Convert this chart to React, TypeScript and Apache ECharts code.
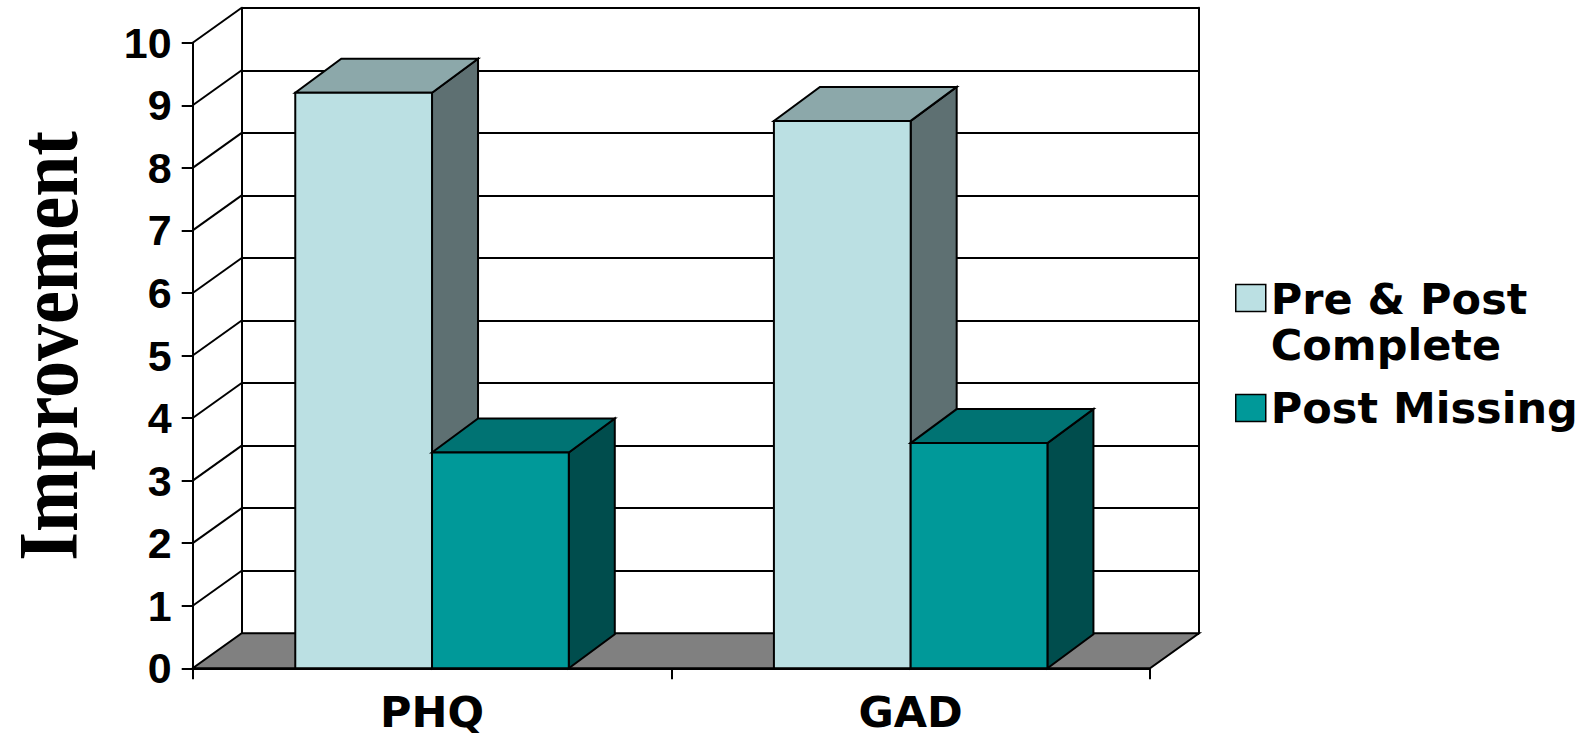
import React, { useEffect, useRef } from "react";
import * as echarts from "echarts";

// ---- data ----
const CATEGORIES = ["PHQ", "GAD"];
const SERIES_NAMES = ["Pre & Post Complete", "Post Missing"];
const PRE_POST_COMPLETE = [9.2, 8.75];
const POST_MISSING = [3.45, 3.6];
const Y_TICKS = [0, 1, 2, 3, 4, 5, 6, 7, 8, 9, 10];
const Y_MIN = 0;
const Y_MAX = 10;
const Y_STEP = 1;

// ---- styling ----
// each series: front face, top face (shaded), side face (darker)
const PALETTE = [
  { front: "#BBE0E3", top: "#8CA8AA", side: "#5E7072" },
  { front: "#009999", top: "#007373", side: "#004D4D" },
];
const FLOOR_COLOR = "#808080";
const FONT_WIDE = "'DejaVu Sans', 'Liberation Sans', Arial, sans-serif";
const FONT_DIGITS = "'Liberation Sans', Arial, Helvetica, sans-serif";
const FONT_SERIF = "'Liberation Serif', 'Times New Roman', serif";
const LINE_W = 2;

// front plane of the plot and the depth offsets of walls / boxes
const FRONT = { left: 192.7, right: 429, top: 42.7, bottom: 67.7 };
const WALL_DX = 49;
const WALL_DY = 35;
const BAR_DX = 46;
const BAR_DY = 34;
const GAP_RATIO = 1.5; // space between clusters, in bar widths

const edge = { stroke: "#000", lineWidth: LINE_W, lineJoin: "miter" };

function makeBoxRenderer(seriesIdx: number) {
  return (params: any, api: any) => {
    const cat = api.value(0);
    const val = api.value(1);
    const band = api.size([1, 0])[0];
    const n = SERIES_NAMES.length;
    const barW = band / (n + GAP_RATIO);
    const base = api.coord([cat, Y_MIN]);
    const top = api.coord([cat, val]);
    const x0 = base[0] - (barW * n) / 2 + seriesIdx * barW;
    const x1 = x0 + barW;
    const yb = base[1];
    const yt = top[1];
    const c = PALETTE[seriesIdx];
    return {
      type: "group",
      children: [
        {
          type: "polygon",
          shape: {
            points: [
              [x1, yb],
              [x1, yt],
              [x1 + BAR_DX, yt - BAR_DY],
              [x1 + BAR_DX, yb - BAR_DY],
            ],
          },
          style: { fill: c.side, ...edge },
        },
        {
          type: "polygon",
          shape: {
            points: [
              [x0, yt],
              [x1, yt],
              [x1 + BAR_DX, yt - BAR_DY],
              [x0 + BAR_DX, yt - BAR_DY],
            ],
          },
          style: { fill: c.top, ...edge },
        },
        {
          type: "rect",
          shape: { x: x0, y: yt, width: barW, height: yb - yt },
          style: { fill: c.front, ...edge },
        },
      ],
    };
  };
}

// floor (at the minimum) and the side-wall lines joining front ticks to the back wall
function renderWalls(params: any, api: any) {
  const v = api.value(1);
  const cs = params.coordSys;
  const y = api.coord([0, v])[1];
  const xl = cs.x;
  const xr = cs.x + cs.width;
  if (v === Y_MIN) {
    return {
      type: "polygon",
      shape: {
        points: [
          [xl, y],
          [xr, y],
          [xr + WALL_DX, y - WALL_DY],
          [xl + WALL_DX, y - WALL_DY],
        ],
      },
      style: { fill: FLOOR_COLOR, ...edge },
    };
  }
  return {
    type: "line",
    shape: { x1: xl, y1: y, x2: xl + WALL_DX, y2: y - WALL_DY },
    style: { stroke: "#000", lineWidth: LINE_W },
  };
}

const labelText = {
  color: "#000",
  fontFamily: FONT_WIDE,
  fontWeight: "bold" as const,
  fontSize: 43,
};

export default function App() {
  const ref = useRef<HTMLDivElement>(null);

  useEffect(() => {
    if (!ref.current) return;
    const chart = echarts.init(ref.current, undefined, { renderer: "svg" });

    const legendCommon = {
      orient: "vertical",
      left: 1235,
      padding: 0,
      itemWidth: 30,
      selectedMode: false,
      textStyle: { ...labelText, lineHeight: 46 },
      itemStyle: { borderColor: "#000", borderWidth: 1.5 },
      formatter: (name: string) =>
        name === SERIES_NAMES[0] ? "Pre & Post\nComplete" : name,
    };

    chart.setOption({
      animation: false,
      backgroundColor: "#fff",
      grid: [
        {
          left: FRONT.left,
          right: FRONT.right,
          top: FRONT.top,
          bottom: FRONT.bottom,
        },
        {
          left: FRONT.left + WALL_DX,
          right: FRONT.right - WALL_DX,
          top: FRONT.top - WALL_DY,
          bottom: FRONT.bottom + WALL_DY,
        },
      ],
      xAxis: [
        {
          gridIndex: 0,
          type: "category",
          data: CATEGORIES,
          axisLine: { show: true, lineStyle: { color: "#000", width: LINE_W } },
          axisTick: { show: true, length: 11, lineStyle: { color: "#000", width: LINE_W } },
          axisLabel: { ...labelText, margin: 26, lineHeight: 36 },
          splitLine: { show: false },
        },
        {
          gridIndex: 1,
          type: "category",
          data: CATEGORIES,
          show: false,
        },
      ],
      yAxis: [
        {
          gridIndex: 0,
          type: "value",
          min: Y_MIN,
          max: Y_MAX,
          interval: Y_STEP,
          axisLine: { show: true, lineStyle: { color: "#000", width: LINE_W } },
          axisTick: { show: true, length: 11, lineStyle: { color: "#000", width: LINE_W } },
          axisLabel: { ...labelText, fontFamily: FONT_DIGITS, margin: 21 },
          splitLine: { show: false },
        },
        {
          gridIndex: 1,
          type: "value",
          min: Y_MIN,
          max: Y_MAX,
          interval: Y_STEP,
          axisLine: { show: true, lineStyle: { color: "#000", width: LINE_W } },
          axisTick: { show: false },
          axisLabel: { show: false },
          splitLine: { show: true, lineStyle: { color: "#000", width: LINE_W } },
        },
        {
          gridIndex: 1,
          type: "value",
          position: "right",
          min: Y_MIN,
          max: Y_MAX,
          interval: Y_STEP,
          axisLine: { show: true, lineStyle: { color: "#000", width: LINE_W } },
          axisTick: { show: false },
          axisLabel: { show: false },
          splitLine: { show: false },
        },
      ],
      legend: [
        {
          ...legendCommon,
          data: [SERIES_NAMES[0]],
          top: 275.5,
          itemHeight: 74,
          // square sits beside the first text line
          icon: "path://M0,0L30,0L30,27L0,27Z M30,74",
        },
        {
          ...legendCommon,
          data: [SERIES_NAMES[1]],
          top: 385,
          itemHeight: 27,
          icon: "rect",
        },
      ],
      graphic: [
        {
          type: "text",
          x: 48.3,
          y: 346,
          rotation: Math.PI / 2,
          scaleX: 0.88,
          style: {
            text: "Improvement",
            fill: "#000",
            fontFamily: FONT_SERIF,
            fontWeight: "bold",
            fontSize: 84,
            align: "center",
            verticalAlign: "middle",
          },
        },
      ],
      series: [
        {
          type: "custom",
          name: "walls",
          xAxisIndex: 0,
          yAxisIndex: 0,
          z: 1,
          silent: true,
          renderItem: renderWalls,
          data: Y_TICKS.map((v) => [0, v]),
          encode: { x: 0, y: 1 },
        },
        {
          type: "custom",
          name: SERIES_NAMES[0],
          xAxisIndex: 0,
          yAxisIndex: 0,
          z: 2,
          itemStyle: { color: PALETTE[0].front },
          renderItem: makeBoxRenderer(0),
          data: PRE_POST_COMPLETE.map((v, i) => [i, v]),
          encode: { x: 0, y: 1 },
        },
        {
          type: "custom",
          name: SERIES_NAMES[1],
          xAxisIndex: 0,
          yAxisIndex: 0,
          z: 2,
          itemStyle: { color: PALETTE[1].front },
          renderItem: makeBoxRenderer(1),
          data: POST_MISSING.map((v, i) => [i, v]),
          encode: { x: 0, y: 1 },
        },
      ],
    });

    return () => {
      chart.dispose();
    };
  }, []);

  return (
    <div
      ref={ref}
      style={{
        position: "fixed",
        left: 0,
        top: 0,
        width: 1579,
        height: 736,
        background: "#fff",
      }}
    />
  );
}
